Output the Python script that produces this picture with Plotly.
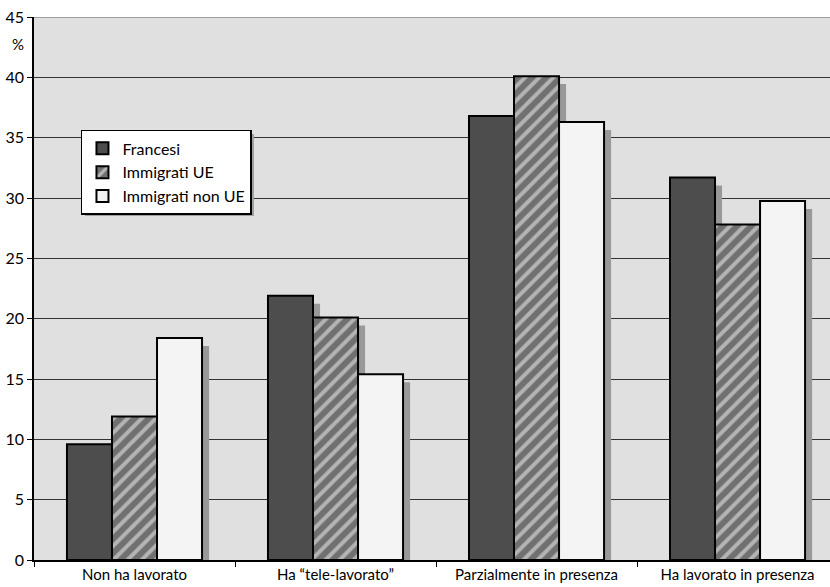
import plotly.graph_objects as go

categories = ["Non ha lavorato", "Ha \u201ctele-lavorato\u201d",
              "Parzialmente in presenza", "Ha lavorato in presenza"]
series_names = ["Francesi", "Immigrati UE", "Immigrati non UE"]
francesi = [9.6, 21.9, 36.8, 31.7]
immigrati_ue = [11.9, 20.1, 40.1, 27.8]
immigrati_non_ue = [18.4, 15.4, 36.3, 29.75]
y_ticks = [0, 5, 10, 15, 20, 25, 30, 35, 40, 45]

FONT = "Lato"
values = [francesi, immigrati_ue, immigrati_non_ue]
bar_w = 0.224
offsets = [-1.5 * bar_w, -0.5 * bar_w, 0.5 * bar_w]
shadow_dx = 0.035
shadow_dy = 0.66

fig = go.Figure()

# drop shadows, drawn first so the bars sit on top of them
for vals, off in zip(values, offsets):
    fig.add_trace(go.Bar(
        x=categories, y=vals, base=[-shadow_dy] * len(vals),
        offset=off + shadow_dx, width=bar_w,
        marker=dict(color="#999999", line=dict(width=0)),
        showlegend=False, hoverinfo="skip",
    ))

styles = [
    dict(color="#4d4d4d", line=dict(color="black", width=2)),
    dict(color="#707070", line=dict(color="black", width=2),
         pattern=dict(shape="/", fgcolor="#b4b4b4", bgcolor="#707070",
                      size=10, solidity=0.4, fillmode="replace")),
    dict(color="#f4f4f4", line=dict(color="black", width=2)),
]
for name, vals, off, st in zip(series_names, values, offsets, styles):
    fig.add_trace(go.Bar(
        x=categories, y=vals, name=name,
        offset=off, width=bar_w, marker=st,
    ))

# thin grey frame edge along the top of the plot area
fig.add_shape(type="line", xref="paper", yref="y", x0=0, x1=1, y0=45, y1=45,
              line=dict(color="#8a8a8a", width=1.5))

# soft shadow under the legend box
leg_x, leg_y = 0.059, 0.792
fig.add_shape(type="rect", xref="paper", yref="paper",
              x0=leg_x + 4 / 796, x1=leg_x + 173 / 796,
              y0=leg_y - 86 / 543, y1=leg_y - 4 / 543,
              fillcolor="#a0a0a0", line=dict(width=0), layer="above")

fig.add_annotation(text="%", xref="paper", yref="paper", x=-0.02, y=0.95,
                   showarrow=False, font=dict(family=FONT, size=15, color="black"),
                   xanchor="center", yanchor="middle")

fig.update_layout(
    width=830, height=587,
    margin=dict(l=34, r=0, t=17, b=27),
    barmode="overlay",
    plot_bgcolor="#e0e0e0",
    paper_bgcolor="white",
    font=dict(family=FONT, color="black"),
    legend=dict(
        x=leg_x, y=leg_y, xanchor="left", yanchor="top",
        bgcolor="white", bordercolor="black", borderwidth=1.5,
        font=dict(family=FONT, size=16, color="black"),
        tracegroupgap=0, itemwidth=30,
    ),
    xaxis=dict(
        type="category", range=[-0.5, 3.46],
        showgrid=False, showline=True, linecolor="black", linewidth=1.5,
        ticks="outside", tickson="boundaries", ticklen=5, tickcolor="black",
        tickfont=dict(family=FONT, size=15, color="black"),
    ),
    yaxis=dict(
        range=[0, 45], tickvals=y_ticks,
        showgrid=True, gridcolor="#333333", gridwidth=1,
        showline=True, linecolor="black", linewidth=1.5,
        ticks="outside", ticklen=5, tickcolor="black",
        tickfont=dict(family=FONT, size=16, color="black"),
        zeroline=False,
    ),
)

fig.write_html("out.html")
